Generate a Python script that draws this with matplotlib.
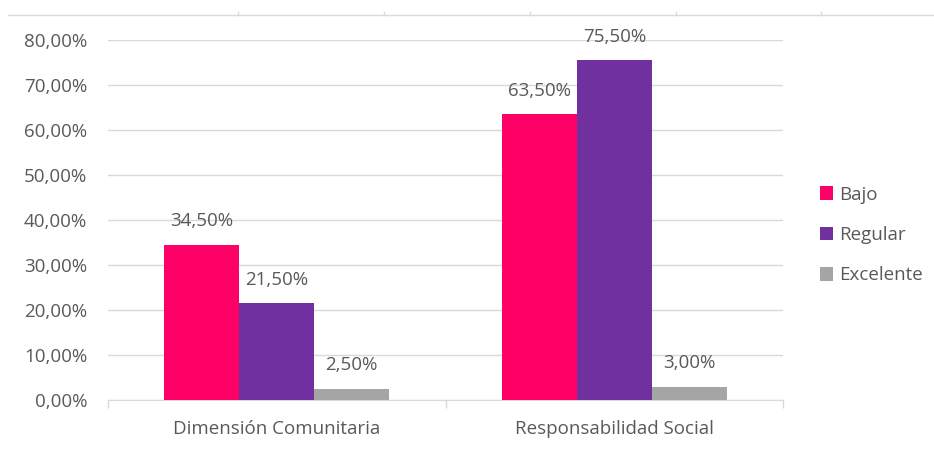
import matplotlib.pyplot as plt
import numpy as np
from matplotlib.lines import Line2D

plt.rcParams['font.family'] = ['Open Sans', 'DejaVu Sans']

categories = ["Dimensión Comunitaria", "Responsabilidad Social"]
series = ["Bajo", "Regular", "Excelente"]
bajo = [34.5, 63.5]
regular = [21.5, 75.5]
excelente = [2.5, 3.0]
colors = ["#FF0066", "#7030A0", "#A5A5A5"]
yticks = [0, 10, 20, 30, 40, 50, 60, 70, 80]

text_color = "#595959"
grid_color = "#D9D9D9"
fs = 13.5

fig = plt.figure(figsize=(9.34, 4.49), dpi=100)
ax = fig.add_axes([108 / 934, 1 - 400 / 449, (783 - 108) / 934, 360 / 449])

x = np.arange(len(categories))
width = 2 / 9
for i, (name, vals) in enumerate(zip(series, [bajo, regular, excelente])):
    pos = x + (i - 1) * width
    ax.bar(pos, vals, width, color=colors[i], label=name, zorder=3)
    for px, v in zip(pos, vals):
        ax.annotate(f"{v:.2f}%".replace(".", ","), (px, v), xytext=(0, 17),
                    textcoords="offset points", ha="center", va="center",
                    fontsize=fs, color=text_color)

ax.set_xlim(-0.5, 1.5)
ax.set_ylim(0, 80)
ax.set_yticks(yticks)
ax.set_yticklabels([f"{t:.2f}%".replace(".", ",") for t in yticks])
ax.set_xticks(x)
ax.set_xticklabels(categories)
ax.set_xticks([-0.5, 0.5, 1.5], minor=True)
ax.tick_params(axis="y", length=0, labelsize=fs, labelcolor=text_color, pad=15)
ax.tick_params(axis="x", which="major", length=0, labelsize=fs, labelcolor=text_color, pad=14.5)
ax.tick_params(axis="x", which="minor", length=6, color=grid_color, width=1)
ax.grid(axis="y", color=grid_color, linewidth=1, zorder=0)
for s in ["top", "right", "left"]:
    ax.spines[s].set_visible(False)
ax.spines["bottom"].set_color(grid_color)

fig.legend(loc="center left", bbox_to_anchor=(803 / 934, 1 - 235 / 449), frameon=False,
           fontsize=fs, labelcolor=text_color, handlelength=0.7, handleheight=0.7,
           handletextpad=0.35, labelspacing=1.2)

# leftover table border at the top of the image
top_y = 1 - 15 / 449
fig.add_artist(Line2D([8 / 934, 1], [top_y, top_y], transform=fig.transFigure,
                      color=grid_color, linewidth=1))
for tx in [238, 384, 530, 676, 821]:
    fig.add_artist(Line2D([tx / 934, tx / 934], [top_y, top_y + 3 / 449],
                          transform=fig.transFigure, color=grid_color, linewidth=1))

fig.savefig("out.png", dpi=100)
